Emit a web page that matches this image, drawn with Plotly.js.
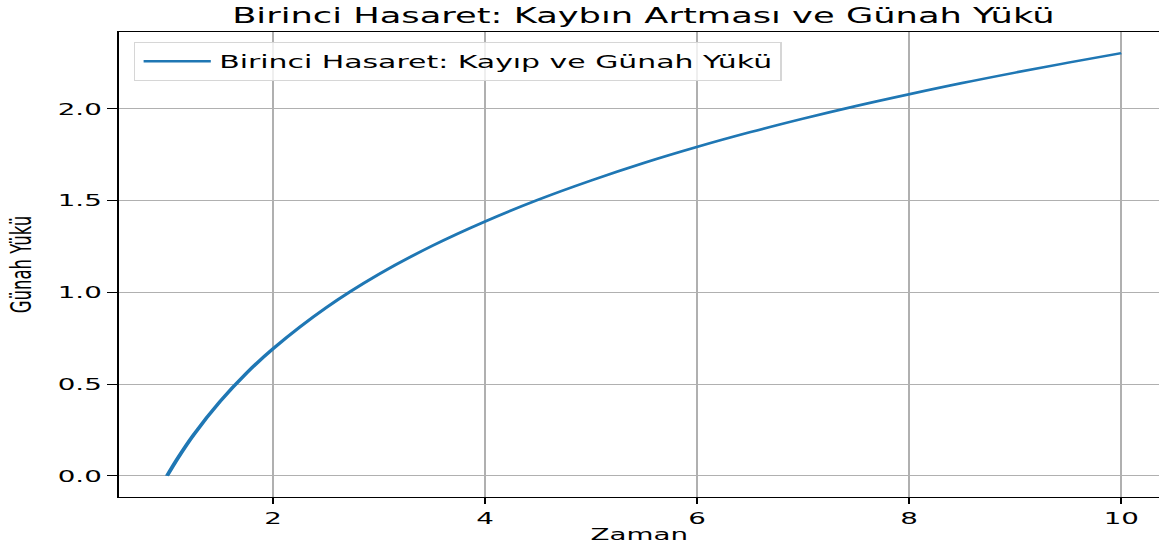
<!DOCTYPE html>
<html>
<head>
<meta charset="utf-8">
<script src="https://cdn.plot.ly/plotly-3.0.1.min.js"></script>
<style>
html, body { margin: 0; padding: 0; overflow: hidden; background: #fff; }
#wrap { width: 1159px; height: 552px; overflow: hidden; }
#chart { width: 690px; height: 552px; transform: scaleX(1.68); transform-origin: 0 0; }
</style>
</head>
<body>
<div id="wrap"><div id="chart"></div></div>
<script>
// Values
const zaman = [1, 1.1, 1.25, 1.5, 1.75, 2, 2.5, 3, 3.5, 4, 4.5, 5, 5.5, 6, 6.5, 7, 7.5, 8, 8.5, 9, 9.5, 10];
const gunahYuku = [0.0, 0.095, 0.223, 0.405, 0.560, 0.693, 0.916, 1.099, 1.253, 1.386, 1.504, 1.609, 1.705, 1.792, 1.872, 1.946, 2.015, 2.079, 2.140, 2.197, 2.251, 2.303];
const xTicks = [2, 4, 6, 8, 10];
const yTicks = [0.0, 0.5, 1.0, 1.5, 2.0];
const yTickLabels = ["0.0", "0.5", "1.0", "1.5", "2.0"];

const font = "DejaVu Sans, Liberation Sans, sans-serif";

const trace = {
  x: zaman,
  y: gunahYuku,
  type: "scatter",
  mode: "lines",
  line: { color: "#1f77b4", width: 2.5, shape: "spline", smoothing: 1 },
  name: "Birinci Hasaret: Kayıp ve Günah Yükü"
};

const layout = {
  width: 690,
  height: 552,
  margin: { l: 70.5, r: 0, t: 32.3, b: 55.2, pad: 0 },
  paper_bgcolor: "#ffffff",
  plot_bgcolor: "#ffffff",
  font: { family: font, size: 16.5, color: "#000" },
  title: {
    text: "Birinci Hasaret: Kaybın Artması ve Günah Yükü",
    font: { family: font, size: 21, color: "#000" },
    xref: "paper", x: 0.504, xanchor: "center",
    yref: "container", y: 1 - 16 / 552, yanchor: "middle"
  },
  showlegend: true,
  legend: {
    x: 0.0137, xanchor: "left",
    y: 0.978, yanchor: "top",
    bgcolor: "rgba(255,255,255,0.8)",
    bordercolor: "#d6d6d6", borderwidth: 1,
    itemwidth: 40,
    font: { family: font, size: 17.8, color: "#000" }
  },
  xaxis: {
    range: [0.55, 10.358],
    tickvals: xTicks,
    ticktext: xTicks.map(String),
    ticks: "outside", ticklen: 6, tickwidth: 1.1, tickcolor: "#000",
    showline: true, linecolor: "#000", linewidth: 1.1, mirror: true,
    showgrid: true, gridcolor: "#b0b0b0", gridwidth: 1.1,
    zeroline: false,
    tickfont: { family: font, size: 16.5, color: "#000" },
    title: { text: "Zaman", font: { family: font, size: 16.5, color: "#000" }, standoff: 1 }
  },
  yaxis: {
    range: [-0.115, 2.418],
    tickvals: yTicks,
    ticktext: yTickLabels,
    ticks: "outside", ticklen: 6, tickwidth: 1.1, tickcolor: "#000",
    showline: true, linecolor: "#000", linewidth: 1.1, mirror: false,
    showgrid: true, gridcolor: "#b0b0b0", gridwidth: 1.1,
    zeroline: false,
    tickfont: { family: font, size: 16.5, color: "#000" },
    title: { text: "Günah Yükü", font: { family: font, size: 16.5, color: "#000" }, standoff: 10.5 }
  }
};

Plotly.newPlot("chart", [trace], layout, { displayModeBar: false, staticPlot: true });
</script>
</body>
</html>
